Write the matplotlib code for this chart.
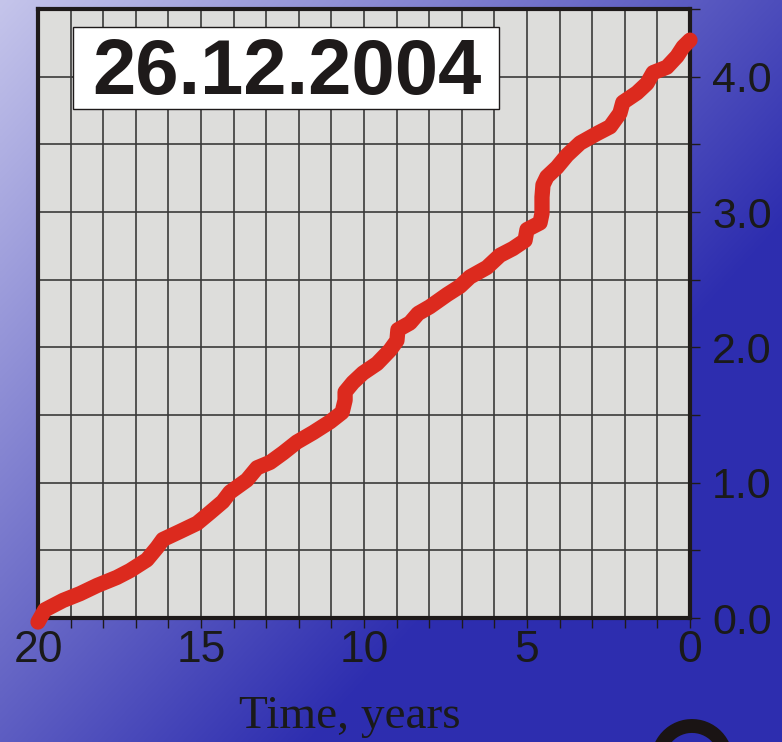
import numpy as np
import matplotlib
matplotlib.use("Agg")
import matplotlib.pyplot as plt
from matplotlib.patches import Rectangle, Arc

# years before the event (axis runs 20 -> 0) and cumulative value
years = [20.0, 19.79, 19.23, 18.71, 18.19, 17.58, 17.18, 16.66, 16.35, 16.17,
         15.64, 15.12, 14.72, 14.33, 14.11, 13.59, 13.28, 12.88, 12.48, 12.06,
         11.56, 11.04, 10.67, 10.58, 10.58, 10.34, 10.03, 9.60, 9.20, 8.99,
         8.96, 8.59, 8.34, 7.98, 7.45, 7.06, 6.75, 6.23, 5.83, 5.43,
         5.06, 5.00, 4.60, 4.54, 4.54, 4.51, 4.39, 4.08, 3.77, 3.37,
         2.85, 2.45, 2.15, 2.06, 1.63, 1.32, 1.13, 0.71, 0.40, 0.21, 0.0]
values = [-0.03, 0.06, 0.13, 0.18, 0.24, 0.30, 0.35, 0.43, 0.52, 0.58,
          0.64, 0.70, 0.78, 0.86, 0.93, 1.02, 1.11, 1.15, 1.22, 1.30,
          1.37, 1.45, 1.52, 1.61, 1.67, 1.74, 1.81, 1.88, 1.98, 2.05,
          2.13, 2.18, 2.25, 2.30, 2.39, 2.45, 2.52, 2.59, 2.68, 2.73,
          2.79, 2.87, 2.92, 2.99, 3.11, 3.20, 3.26, 3.33, 3.42, 3.51,
          3.58, 3.63, 3.73, 3.81, 3.88, 3.95, 4.03, 4.07, 4.15, 4.22, 4.27]

x_labels = [20, 15, 10, 5, 0]
y_labels = [0.0, 1.0, 2.0, 3.0, 4.0]
title = "26.12.2004"

fig = plt.figure(figsize=(7.82, 7.42), dpi=100)

# blue background gradient, light in the top-left corner
bg = fig.add_axes([0, 0, 1, 1], zorder=-10)
H, W = 371, 391
v, u = np.mgrid[0:1:H * 1j, 0:1:W * 1j]
f = np.clip(0.65 * v + 0.75 * u + 0.05, 0, 1)[..., None]
light = np.array([205, 205, 238]) / 255
dark = np.array([45, 45, 175]) / 255
bg.imshow(light * (1 - f) + dark * f, aspect="auto", interpolation="bilinear")
bg.axis("off")

ax = fig.add_axes([38 / 782, 124 / 742, 652 / 782, 609 / 742])
ax.set_facecolor("#dddddb")
ax.plot(years, values, color="#dc2a1e", lw=11, solid_capstyle="round",
        solid_joinstyle="round", clip_on=False, zorder=3)

ax.set_xlim(20, 0)
ax.set_ylim(0, 4.5)
ax.set_xticks(x_labels)
ax.set_xticklabels([str(x) for x in x_labels])
ax.set_xticks(np.arange(0, 21, 1), minor=True)
ax.set_yticks(y_labels)
ax.set_yticklabels([f"{y:.1f}" for y in y_labels])
ax.set_yticks(np.arange(0, 4.51, 0.5), minor=True)
ax.yaxis.tick_right()
ax.grid(which="both", color="#3a3a3a", lw=1.2)
ax.set_axisbelow(True)

for s in ax.spines.values():
    s.set_linewidth(3)
    s.set_color("#1e1a1a")

ax.tick_params(which="both", direction="out", length=7, width=1, color="#1e1a1a")
ax.tick_params(axis="x", which="major", labelsize=32, pad=2, labelcolor="#1a1a1a")
ax.tick_params(axis="y", which="major", labelsize=31, pad=9, labelcolor="#1a1a1a")
for lab in ax.get_xticklabels() + ax.get_yticklabels():
    lab.set_family("Liberation Sans")

# date box
fig.patches.append(Rectangle((73 / 782, (742 - 109) / 742), 426 / 782, 82 / 742,
                             transform=fig.transFigure, facecolor="white",
                             edgecolor="#1e1a1a", lw=1, zorder=5))
fig.text(287 / 782, (742 - 94) / 742, title, ha="center", va="baseline",
         fontsize=56, fontweight="bold", family="Liberation Sans",
         color="#1e1a1a", zorder=6)

fig.text(350 / 782, 14 / 742, "Time, years", ha="center", va="baseline",
         fontsize=34, family="Liberation Serif", color="#1a1a1a")

# cut-off black glyph at the bottom right corner
fig.patches.append(Arc((692 / 782, -18 / 742), 68 / 782, 68 / 742,
                       theta1=0, theta2=200, transform=fig.transFigure,
                       color="#1a1414", lw=10))

fig.savefig("out.png", dpi=100)
